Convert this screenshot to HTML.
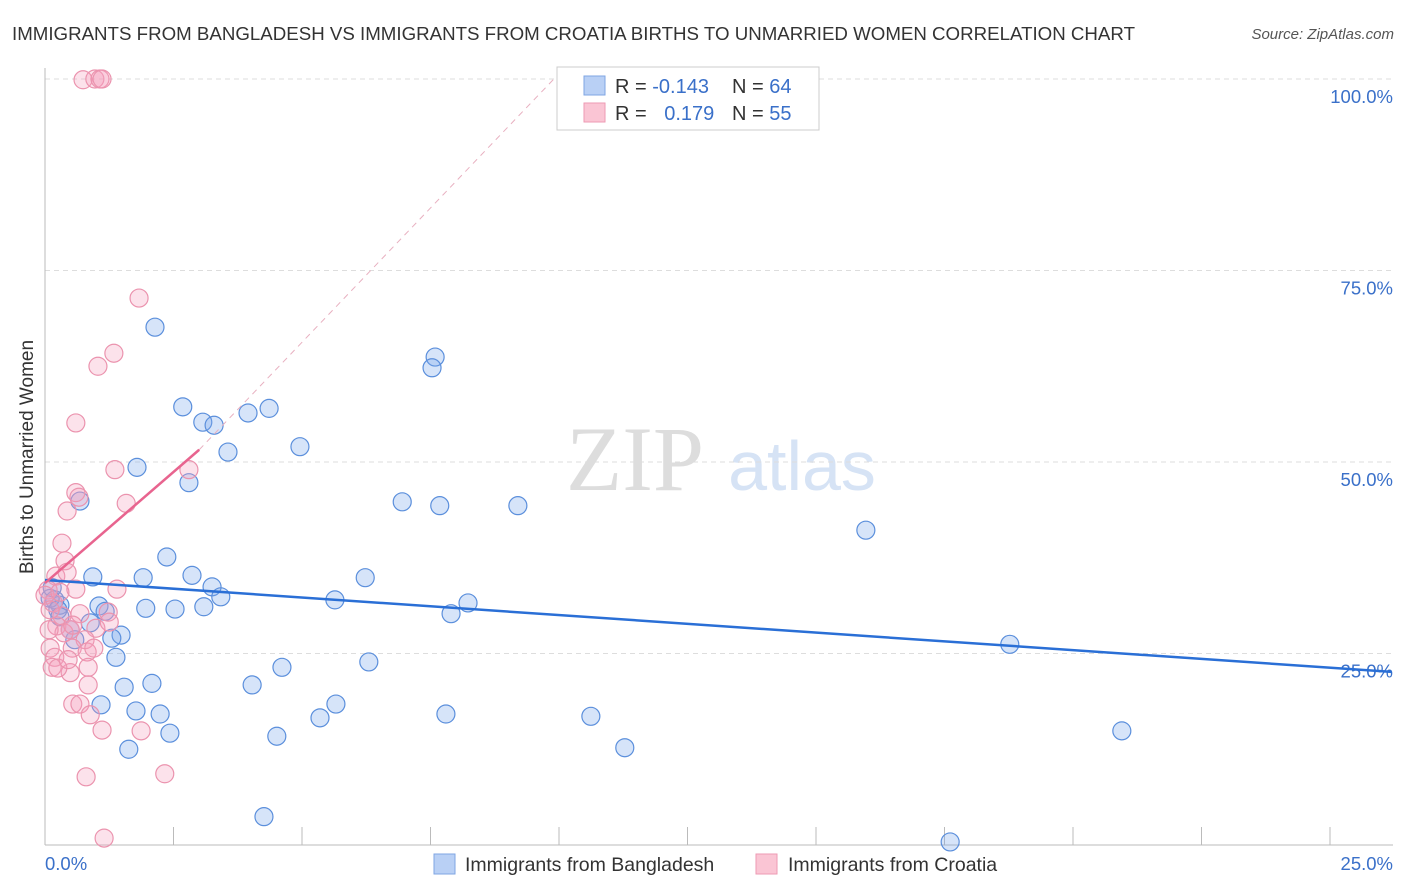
<!DOCTYPE html>
<html><head><meta charset="utf-8"><style>
body{margin:0;background:#fff;font-family:"Liberation Sans",sans-serif;}
svg{display:block}
</style></head><body>
<svg id="chart" width="1406" height="892" xmlns="http://www.w3.org/2000/svg">
<text x="12" y="40" font-size="18.5" fill="#333" textLength="1123" lengthAdjust="spacingAndGlyphs">IMMIGRANTS FROM BANGLADESH VS IMMIGRANTS FROM CROATIA BIRTHS TO UNMARRIED WOMEN CORRELATION CHART</text>
<text x="1394" y="39" font-size="15" fill="#555" font-style="italic" text-anchor="end">Source: ZipAtlas.com</text>
<text x="33" y="457" font-size="19" fill="#333" text-anchor="middle" transform="rotate(-90 33 457)">Births to Unmarried Women</text>
<g>
<text x="635" y="490" font-size="92" fill="#ddd" font-family="Liberation Serif,serif" text-anchor="middle">ZIP</text>
<text x="802" y="490" font-size="70" fill="#d6e3f5" text-anchor="middle">atlas</text>
</g>
<g id="grid"></g><g id="pts"></g><g id="trend"></g>
<g>
<rect x="557" y="67" width="262" height="63" fill="#fff" stroke="#ccc"/>
<rect x="584" y="76" width="21" height="19" fill="#b9d0f5" stroke="#7fa6e3"/>
<rect x="584" y="103" width="21" height="19" fill="#fac5d4" stroke="#ee9ab3"/>
<text x="615" y="93" font-size="20" fill="#333">R = <tspan fill="#3a70c9">-0.143</tspan></text>
<text x="732" y="93" font-size="20" fill="#333">N = <tspan fill="#3a70c9">64</tspan></text>
<text x="615" y="120" font-size="20" fill="#333">R = <tspan fill="#3a70c9" dx="12">0.179</tspan></text>
<text x="732" y="120" font-size="20" fill="#333">N = <tspan fill="#3a70c9">55</tspan></text>
</g>
<g>
<rect x="434" y="854" width="21" height="20" fill="#b9d0f5" stroke="#7fa6e3"/>
<text x="465" y="871" font-size="19.5" fill="#333">Immigrants from Bangladesh</text>
<rect x="756" y="854" width="21" height="20" fill="#fac5d4" stroke="#ee9ab3"/>
<text x="788" y="871" font-size="19.5" fill="#333">Immigrants from Croatia</text>
</g>
</svg>
<script>
const yTicks=[25,50,75,100];
const yTickLabels=["25.0%","50.0%","75.0%","100.0%"];
const xTicks=[0,2.5,5,7.5,10,12.5,15,17.5,20,22.5,25];
const bangX=[2.14,2.68,3.07,3.29,3.95,4.36,3.56,4.96,1.79,2.80,0.68,6.95,7.68,9.20,15.97,7.59,7.53,2.37,0.93,1.91,2.86,3.25,3.42,6.23,5.64,1.96,2.53,3.09,1.05,1.17,0.29,0.19,0.10,0.25,8.23,7.90,0.88,1.48,1.30,0.58,1.38,18.77,6.30,4.61,4.03,1.54,2.08,1.09,1.77,2.24,5.66,5.35,7.80,10.62,2.43,4.51,1.63,11.28,20.95,4.26,17.61,0.14,0.29,0.49];
const bangY=[67.6,57.2,55.2,54.8,56.4,57.0,51.3,52.0,49.3,47.3,44.9,44.8,44.3,44.3,41.1,63.7,62.3,37.6,35.0,34.9,35.2,33.7,32.4,34.9,32.0,30.9,30.8,31.1,31.2,30.5,31.3,32.0,32.2,30.7,31.6,30.2,29.0,27.4,27.0,26.8,24.5,26.2,23.9,23.2,20.9,20.6,21.1,18.3,17.5,17.1,18.4,16.6,17.1,16.8,14.6,14.2,12.5,12.7,14.9,3.7,0.4,33.6,29.8,28.1];
const croX=[0.74,0.97,1.07,1.11,1.83,1.34,1.03,0.60,1.36,2.80,0.60,0.66,0.43,1.58,0.33,0.39,0.21,0.43,0.60,1.40,0.06,0.16,0.33,0.68,1.23,0.23,0.49,0.99,1.25,0.37,0.78,0.53,0.82,0.10,0.19,0.14,0.49,0.84,0.25,0.84,0.54,0.68,0.88,1.11,1.87,0.80,2.33,1.15,0.0,0.10,0.29,0.95,0.45,0.08,0.54];
const croY=[99.9,100,100,100,71.4,64.2,62.5,55.1,49.0,49.0,46.0,45.4,43.6,44.6,39.4,37.1,35.1,35.6,33.4,33.4,33.3,31.6,29.9,30.2,30.4,28.6,28.1,28.3,29.1,27.7,26.8,25.7,25.2,25.7,24.5,23.2,22.5,23.2,23.1,20.9,18.4,18.4,17.0,15.0,14.9,8.9,9.3,0.9,32.6,30.7,33.0,25.7,24.2,28.1,28.7];
const bangTrend=[[0,34.6],[26.2,22.6]];
const croTrend=[[0,34.2],[3.0,51.6]];
const croTrendExt=[[3.0,51.6],[9.9,100]];
const NS="http://www.w3.org/2000/svg";
const X=v=>45+v*51.4, Y=v=>845-v*7.66;
function mk(t,a,p){const e=document.createElementNS(NS,t);for(const k in a)e.setAttribute(k,a[k]);p.appendChild(e);return e;}
const grid=document.getElementById('grid');
yTicks.forEach((t,i)=>{
 const l=mk('line',{x1:45,x2:1393,y1:Y(t),y2:Y(t),stroke:'#ddd','stroke-dasharray':'5,4'},grid);
 
 
 const tx=mk('text',{x:1393,y:Y(t)+24,'font-size':18.5,fill:'#3a70c9','text-anchor':'end'},grid);
 tx.textContent=yTickLabels[i];
 
 
});
const ax=mk('line',{x1:45,x2:45,y1:68,y2:845,stroke:'#bbb'},grid);


const bx=mk('line',{x1:45,x2:1393,y1:845,y2:845,stroke:'#bbb'},grid);


xTicks.forEach(t=>{
 const l=mk('line',{x1:X(t),x2:X(t),y1:827,y2:845,stroke:'#bbb'},grid);
 
 
});
const x0=mk('text',{x:45,y:870,'font-size':18.5,fill:'#3a70c9'},grid);x0.textContent='0.0%';


const x1=mk('text',{x:1393,y:870,'font-size':18.5,fill:'#3a70c9','text-anchor':'end'},grid);x1.textContent='25.0%';


const pts=document.getElementById('pts');
bangX.forEach((v,i)=>{
 const c=mk('circle',{cx:X(v),cy:Y(bangY[i]),r:9,fill:'rgba(120,165,235,0.3)',stroke:'#5b8fdc','stroke-width':1.2},pts);
 
 
});
croX.forEach((v,i)=>{
 const c=mk('circle',{cx:X(v),cy:Y(croY[i]),r:9,fill:'rgba(245,160,190,0.3)',stroke:'#eb93ae','stroke-width':1.2},pts);
 
 
});
const tr=document.getElementById('trend');
const b=mk('line',{x1:X(bangTrend[0][0]),y1:Y(bangTrend[0][1]),x2:X(bangTrend[1][0]),y2:Y(bangTrend[1][1]),stroke:'#2a6fd6','stroke-width':2.5},tr);


const ce=mk('line',{x1:X(croTrendExt[0][0]),y1:Y(croTrendExt[0][1]),x2:X(croTrendExt[1][0]),y2:Y(croTrendExt[1][1]),stroke:'#e8b0c0','stroke-width':1,'stroke-dasharray':'6,5'},tr);


const cl=mk('line',{x1:X(croTrend[0][0]),y1:Y(croTrend[0][1]),x2:X(croTrend[1][0]),y2:Y(croTrend[1][1]),stroke:'#e8648f','stroke-width':2.5},tr);


</script>
</body></html>
